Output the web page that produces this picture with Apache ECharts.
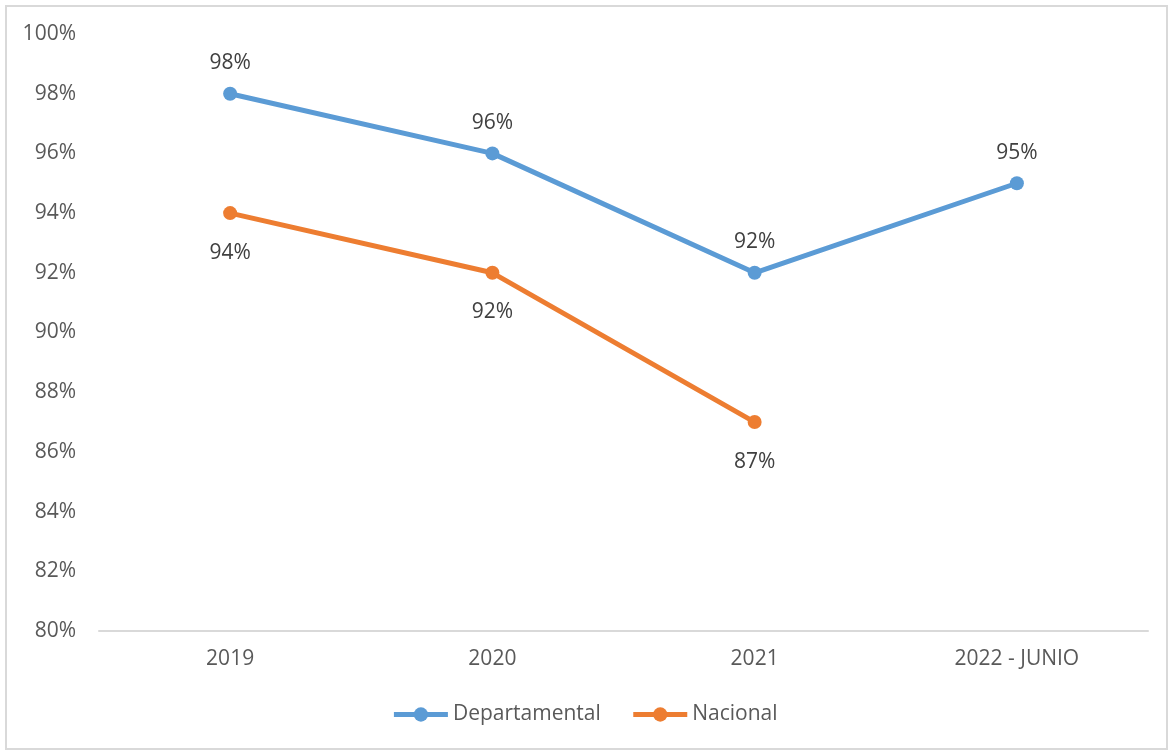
<!DOCTYPE html>
<html>
<head>
<meta charset="utf-8">
<script src="https://cdn.jsdelivr.net/npm/echarts@6/dist/echarts.min.js"></script>
<style>
  html, body { margin: 0; padding: 0; background: #fff; }
  #frame { position: absolute; left: 5px; top: 5px; width: 1159px; height: 741px; border: 2px solid #d9d9d9; }
  #main { position: absolute; left: 0; top: 0; width: 1169px; height: 751px; }
</style>
</head>
<body>
<div id="frame"></div>
<div id="main"></div>
<script>
  var categories = ['2019', '2020', '2021', '2022 - JUNIO'];
  var departamental = [98, 96, 92, 95];
  var nacional = [94, 92, 87, null];

  var chartDom = document.getElementById('main');
  var myChart = echarts.init(chartDom);
  var font = '"Open Sans", sans-serif';

  var option = {
    backgroundColor: 'transparent',
    color: ['#5B9BD5', '#ED7D31'],
    textStyle: { fontFamily: font },
    grid: {
      left: 99,
      right: 21,
      top: 34,
      bottom: 120
    },
    legend: {
      bottom: 21,
      left: 'center',
      itemWidth: 54,
      itemHeight: 18,
      itemGap: 30,
      lineStyle: { width: 5 },
      textStyle: { color: '#595959', fontSize: 21, fontFamily: font },
      data: ['Departamental', 'Nacional']
    },
    xAxis: {
      type: 'category',
      data: categories,
      axisLine: { lineStyle: { color: '#d9d9d9', width: 2 } },
      axisTick: { show: false },
      axisLabel: { color: '#595959', fontSize: 21, margin: 18 }
    },
    yAxis: {
      type: 'value',
      min: 80,
      max: 100,
      interval: 2,
      splitLine: { show: false },
      axisLine: { show: false },
      axisTick: { show: false },
      axisLabel: {
        color: '#595959',
        fontSize: 21,
        margin: 23,
        formatter: '{value}%'
      }
    },
    series: [
      {
        name: 'Departamental',
        type: 'line',
        data: departamental,
        symbol: 'circle',
        symbolSize: 14,
        lineStyle: { width: 5 },
        label: {
          show: true,
          position: 'top',
          distance: 13,
          color: '#404040',
          fontSize: 21,
          formatter: '{c}%'
        }
      },
      {
        name: 'Nacional',
        type: 'line',
        data: nacional,
        symbol: 'circle',
        symbolSize: 14,
        lineStyle: { width: 5 },
        label: {
          show: true,
          position: 'bottom',
          distance: 22,
          color: '#404040',
          fontSize: 21,
          formatter: '{c}%'
        }
      }
    ]
  };

  option && myChart.setOption(option);
  window.addEventListener('resize', myChart.resize);
</script>
</body>
</html>
